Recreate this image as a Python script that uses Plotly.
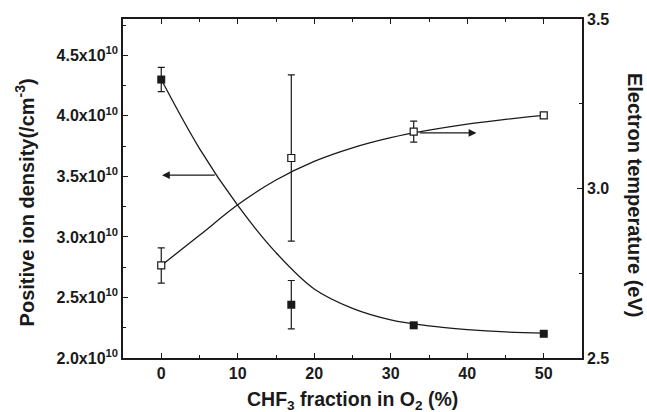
import plotly.graph_objects as go

# ---- data ----
chf3_fraction = [0, 17, 33, 50]
ion_density = [4.30e10, 2.44e10, 2.27e10, 2.20e10]
ion_density_err = [0.10e10, 0.20e10, 0.0, 0.0]
electron_temp = [2.773, 3.09, 3.168, 3.216]
electron_temp_err = [0.052, 0.245, 0.031, 0.005]

# fitted curves as drawn in the reference
fit_x = [0, 5, 10, 15, 20, 25, 30, 35, 40, 45, 50]
ion_fit_y = [4.30e10, 3.73e10, 3.26e10, 2.87e10, 2.57e10, 2.41e10, 2.315e10, 2.265e10, 2.235e10, 2.215e10, 2.205e10]
te_fit_y = [2.773, 2.862, 2.952, 3.025, 3.080, 3.120, 3.150, 3.172, 3.190, 3.204, 3.216]

x_ticks = [0, 10, 20, 30, 40, 50]
left_tickvals = [2.0e10, 2.5e10, 3.0e10, 3.5e10, 4.0e10, 4.5e10]
left_ticktext = ["2.0x10<sup>10</sup>", "2.5x10<sup>10</sup>", "3.0x10<sup>10</sup>",
                 "3.5x10<sup>10</sup>", "4.0x10<sup>10</sup>", "4.5x10<sup>10</sup>"]
right_tickvals = [2.5, 3.0, 3.5]
right_ticktext = ["2.5", "3.0", "3.5"]

FONT = "Liberation Sans, Arial, sans-serif"
BLACK = "#1a1a1a"

fig = go.Figure()

fig.add_trace(go.Scatter(x=fit_x, y=ion_fit_y, mode="lines", line=dict(color=BLACK, width=1.3, shape="spline", smoothing=1.0),
                         yaxis="y", showlegend=False, hoverinfo="skip"))
fig.add_trace(go.Scatter(x=fit_x, y=te_fit_y, mode="lines", line=dict(color=BLACK, width=1.3, shape="spline", smoothing=1.0),
                         yaxis="y2", showlegend=False, hoverinfo="skip"))

fig.add_trace(go.Scatter(
    x=chf3_fraction, y=ion_density, mode="markers", yaxis="y", showlegend=False,
    marker=dict(symbol="square", size=8, color=BLACK, line=dict(color=BLACK, width=0)),
    error_y=dict(type="data", array=ion_density_err, color=BLACK, thickness=1.2, width=3.5),
))
fig.add_trace(go.Scatter(
    x=chf3_fraction, y=electron_temp, mode="markers", yaxis="y2", showlegend=False,
    marker=dict(symbol="square", size=7, color="white", line=dict(color=BLACK, width=1.2)),
    error_y=dict(type="data", array=electron_temp_err, color=BLACK, thickness=1.2, width=3.5),
))

axis_common = dict(showline=True, linecolor=BLACK, linewidth=1.6, showgrid=False, zeroline=False,
                   ticks="inside", ticklen=5, tickwidth=1.3, tickcolor=BLACK, automargin=False,
                   tickfont=dict(family=FONT, size=16, color=BLACK, weight="bold"))

fig.update_layout(
    width=647, height=412,
    margin=dict(l=123, r=65, t=19, b=54),
    paper_bgcolor="white", plot_bgcolor="white",
    font=dict(family=FONT, color=BLACK),
    xaxis=dict(range=[-5, 55], tickvals=x_ticks, mirror="ticks",
               minor=dict(ticks="inside", ticklen=3, tickwidth=1.2, dtick=5, tick0=0, tickcolor=BLACK),
               **axis_common),
    yaxis=dict(range=[2.0e10, 4.8e10], tickvals=left_tickvals, ticktext=left_ticktext,
               minor=dict(ticks="inside", ticklen=3, tickwidth=1.2, dtick=0.25e10, tick0=2.0e10, tickcolor=BLACK),
               **axis_common),
    yaxis2=dict(range=[2.5, 3.5], overlaying="y", side="right", tickvals=right_tickvals, ticktext=right_ticktext,
                minor=dict(ticks="inside", ticklen=3, tickwidth=1.2, dtick=0.25, tick0=2.5, tickcolor=BLACK),
                **axis_common),
)

fig.add_annotation(text="CHF<sub>3</sub> fraction in O<sub>2</sub> (%)", xref="paper", yref="paper",
                   x=0.5, y=-0.125, xanchor="center", yanchor="middle", showarrow=False,
                   font=dict(family=FONT, size=19.5, color=BLACK, weight="bold"))
fig.add_annotation(text="Positive ion density(/cm<sup>-3</sup>)", xref="paper", yref="paper",
                   x=-0.215, y=0.46, xanchor="center", yanchor="middle", textangle=-90, showarrow=False,
                   font=dict(family=FONT, size=20, color=BLACK, weight="bold"))
fig.add_annotation(text="Electron temperature (eV)", xref="paper", yref="paper",
                   x=1.114, y=0.48, xanchor="center", yanchor="middle", textangle=90, showarrow=False,
                   font=dict(family=FONT, size=20, color=BLACK, weight="bold"))

# arrows pointing to the relevant axes
fig.add_annotation(x=0.1, y=3.51e10, xref="x", yref="y", ax=7.2, ay=3.51e10, axref="x", ayref="y",
                   text="", showarrow=True, arrowhead=2, arrowsize=1.3, arrowwidth=1.2, arrowcolor=BLACK)
fig.add_annotation(x=41.2, y=3.164, xref="x", yref="y2", ax=33.6, ay=3.164, axref="x", ayref="y2",
                   text="", showarrow=True, arrowhead=2, arrowsize=1.3, arrowwidth=1.2, arrowcolor=BLACK)

fig.write_html("out.html", config={"displayModeBar": False},
               post_script="document.body.style.margin='0px';")
